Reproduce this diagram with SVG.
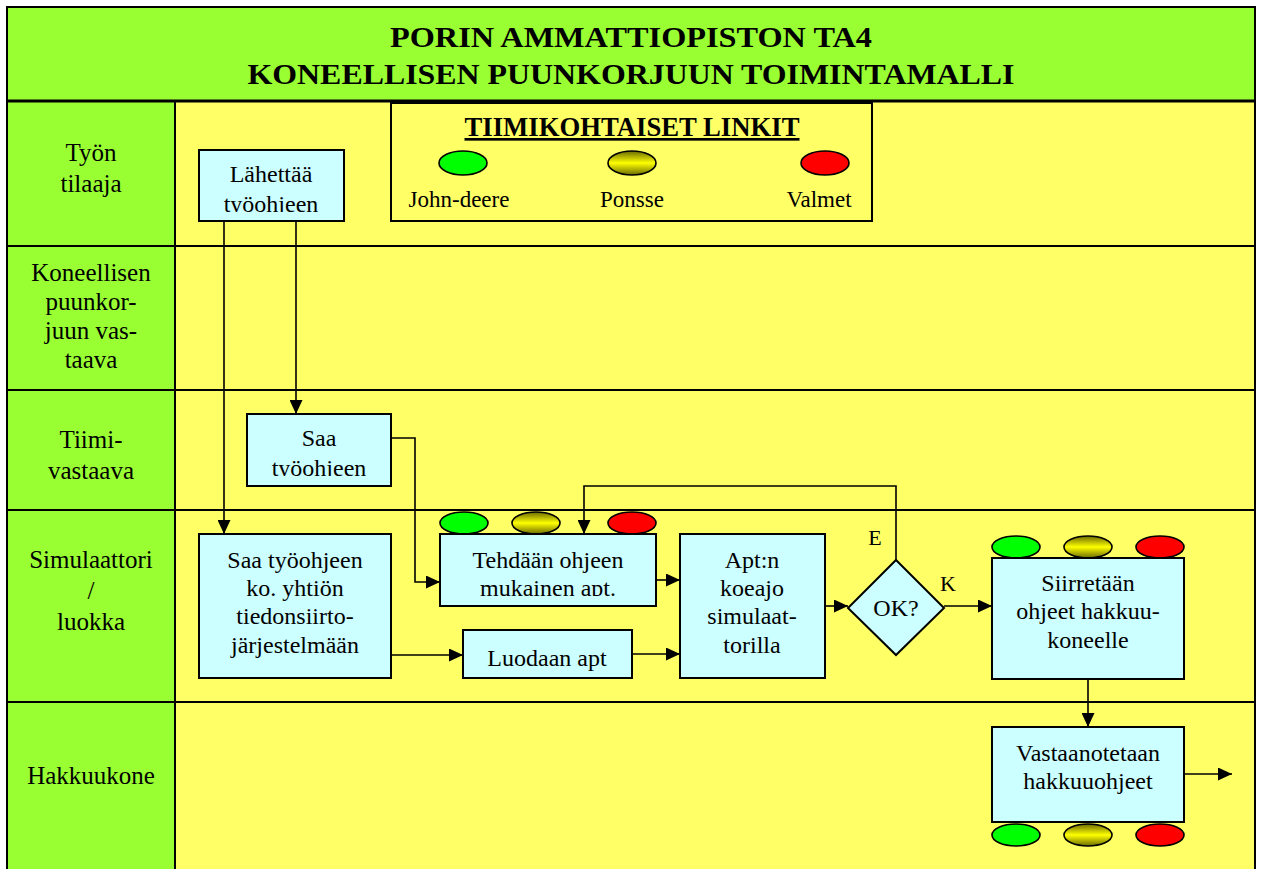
<svg xmlns="http://www.w3.org/2000/svg" width="1262" height="869" viewBox="0 0 1262 869">
<style>
.t{font-family:"Liberation Serif","Times New Roman",serif;fill:#000}
.lbl{font-size:24px;text-anchor:middle}
.lane{font-size:25px;text-anchor:middle}
.box{fill:#ccffff;stroke:#000;stroke-width:2}
.ln{fill:none;stroke:#000;stroke-width:1.6}
.grid{fill:none;stroke:#000;stroke-width:2}
.eg{fill:#00ff00;stroke:#000;stroke-width:1.6}
.ey{fill:url(#yg);stroke:#000;stroke-width:1.6}
.er{fill:#ff0000;stroke:#000;stroke-width:1.6}
</style>
<defs>
<linearGradient id="yg" x1="0" y1="0" x2="0" y2="1">
<stop offset="0" stop-color="#6b6b00"/>
<stop offset="0.5" stop-color="#ffff00"/>
<stop offset="1" stop-color="#6b6b00"/>
</linearGradient>
<marker id="ah" viewBox="0 0 14 13" refX="14" refY="6.5" markerWidth="14" markerHeight="13" markerUnits="userSpaceOnUse" orient="auto">
<path d="M0,0 L14,6.5 L0,13 Z" fill="#000"/>
</marker>
<clipPath id="c1"><rect x="199" y="150" width="145" height="62"/></clipPath>
<clipPath id="c2"><rect x="247" y="414" width="144" height="62"/></clipPath>
<clipPath id="c3"><rect x="440" y="534" width="216" height="62"/></clipPath>
</defs>

<g id="background">
<rect x="0" y="0" width="1262" height="869" fill="#ffffff"/>
<rect x="7" y="7" width="1248" height="94" fill="#99ff33"/>
<rect x="7" y="101" width="168" height="768" fill="#99ff33"/>
<rect x="175" y="101" width="1080" height="768" fill="#ffff66"/>
<path class="grid" d="M7,870 V7 H1255 V870"/>
<path d="M7,101 H1255" stroke="#000" stroke-width="3"/>
<path class="grid" d="M175,101 V870 M7,246 H1255 M7,390 H1255 M7,510 H1255 M7,702 H1255"/>
</g>

<g id="title">
<text class="t" x="631" y="47" font-size="30" font-weight="bold" text-anchor="middle" textLength="482" lengthAdjust="spacingAndGlyphs">PORIN AMMATTIOPISTON TA4</text>
<text class="t" x="631" y="84" font-size="30" font-weight="bold" text-anchor="middle" textLength="767" lengthAdjust="spacingAndGlyphs">KONEELLISEN PUUNKORJUUN TOIMINTAMALLI</text>
</g>

<g id="lanes">
<text class="t lane" x="91" y="161">Työn</text>
<text class="t lane" x="91" y="192">tilaaja</text>
<text class="t lane" x="91" y="281">Koneellisen</text>
<text class="t lane" x="91" y="310">puunkor-</text>
<text class="t lane" x="91" y="339">juun vas-</text>
<text class="t lane" x="91" y="368">taava</text>
<text class="t lane" x="91" y="448">Tiimi-</text>
<text class="t lane" x="91" y="479">vastaava</text>
<text class="t lane" x="91" y="568">Simulaattori</text>
<text class="t lane" x="91" y="599">/</text>
<text class="t lane" x="91" y="630">luokka</text>
<text class="t lane" x="91" y="784">Hakkuukone</text>
</g>

<g id="legend">
<rect x="391" y="103" width="481" height="118" fill="none" stroke="#000" stroke-width="2"/>
<text class="t" x="632" y="136" font-size="26.5" font-weight="bold" text-anchor="middle" text-decoration="underline" textLength="335" lengthAdjust="spacingAndGlyphs">TIIMIKOHTAISET LINKIT</text>
<ellipse class="eg" cx="463" cy="163" rx="24" ry="12"/>
<ellipse class="ey" cx="632" cy="163" rx="24" ry="12"/>
<ellipse class="er" cx="825" cy="163" rx="24" ry="12"/>
<text class="t" x="459" y="207" font-size="23" text-anchor="middle">John-deere</text>
<text class="t" x="632" y="207" font-size="23" text-anchor="middle">Ponsse</text>
<text class="t" x="819" y="207" font-size="23" text-anchor="middle">Valmet</text>
</g>

<g id="connectors">
<path class="ln" d="M224,221 V534" marker-end="url(#ah)"/>
<path class="ln" d="M296,221 V414" marker-end="url(#ah)"/>
<path class="ln" d="M391,438 H415 V582 H440" marker-end="url(#ah)"/>
<path class="ln" d="M391,655 H463" marker-end="url(#ah)"/>
<path class="ln" d="M656,580 H680" marker-end="url(#ah)"/>
<path class="ln" d="M632,654 H680" marker-end="url(#ah)"/>
<path class="ln" d="M825,606 H848" marker-end="url(#ah)"/>
<path class="ln" d="M944,606 H992" marker-end="url(#ah)"/>
<path class="ln" d="M896,560 V486 H584 V534" marker-end="url(#ah)"/>
<path class="ln" d="M1088,679 V727" marker-end="url(#ah)"/>
<path class="ln" d="M1184,774 H1232" marker-end="url(#ah)"/>
<text class="t" x="875" y="545" font-size="22" text-anchor="middle">E</text>
<text class="t" x="948" y="591" font-size="22" text-anchor="middle">K</text>
</g>

<g id="n-lahettaa">
<rect class="box" x="199" y="150" width="145" height="71"/>
<g clip-path="url(#c1)">
<text class="t lbl" x="271" y="182">Lähettää</text>
<text class="t lbl" x="271" y="212">työohjeen</text>
</g>
</g>

<g id="n-saa-tiimi">
<rect class="box" x="247" y="414" width="144" height="72"/>
<g clip-path="url(#c2)">
<text class="t lbl" x="319" y="446">Saa</text>
<text class="t lbl" x="319" y="476">työohjeen</text>
</g>
</g>

<g id="n-saa-yhtio">
<rect class="box" x="199" y="534" width="192" height="144"/>
<text class="t lbl" x="295" y="568">Saa työohjeen</text>
<text class="t lbl" x="295" y="596">ko. yhtiön</text>
<text class="t lbl" x="295" y="624">tiedonsiirto-</text>
<text class="t lbl" x="295" y="653">järjestelmään</text>
</g>

<g id="n-tehdaan">
<ellipse class="eg" cx="464" cy="523" rx="24" ry="11"/>
<ellipse class="ey" cx="536" cy="523" rx="24" ry="11"/>
<ellipse class="er" cx="632" cy="523" rx="24" ry="11"/>
<rect class="box" x="440" y="534" width="216" height="72"/>
<g clip-path="url(#c3)">
<text class="t lbl" x="548" y="568">Tehdään ohjeen</text>
<text class="t lbl" x="548" y="596">mukainen apt.</text>
</g>
</g>

<g id="n-luodaan">
<rect class="box" x="463" y="630" width="169" height="48"/>
<text class="t lbl" x="547" y="666">Luodaan apt</text>
</g>

<g id="n-koeajo">
<rect class="box" x="680" y="534" width="145" height="144"/>
<text class="t lbl" x="752" y="568">Apt:n</text>
<text class="t lbl" x="752" y="596">koeajo</text>
<text class="t lbl" x="752" y="624">simulaat-</text>
<text class="t lbl" x="752" y="653">torilla</text>
</g>

<g id="n-ok">
<path class="box" d="M896,560 L944,608 L896,655 L848,608 Z"/>
<text class="t lbl" x="896" y="616">OK?</text>
</g>

<g id="n-siirretaan">
<ellipse class="eg" cx="1016" cy="547" rx="24" ry="11"/>
<ellipse class="ey" cx="1088" cy="547" rx="24" ry="11"/>
<ellipse class="er" cx="1160" cy="547" rx="24" ry="11"/>
<rect class="box" x="992" y="558" width="192" height="121"/>
<text class="t lbl" x="1088" y="591">Siirretään</text>
<text class="t lbl" x="1088" y="619">ohjeet hakkuu-</text>
<text class="t lbl" x="1088" y="648">koneelle</text>
</g>

<g id="n-vastaanotetaan">
<rect class="box" x="992" y="727" width="192" height="95"/>
<text class="t lbl" x="1088" y="761">Vastaanotetaan</text>
<text class="t lbl" x="1088" y="789">hakkuuohjeet</text>
<ellipse class="eg" cx="1016" cy="835" rx="24" ry="11"/>
<ellipse class="ey" cx="1088" cy="835" rx="24" ry="11"/>
<ellipse class="er" cx="1160" cy="835" rx="24" ry="11"/>
</g>
</svg>
